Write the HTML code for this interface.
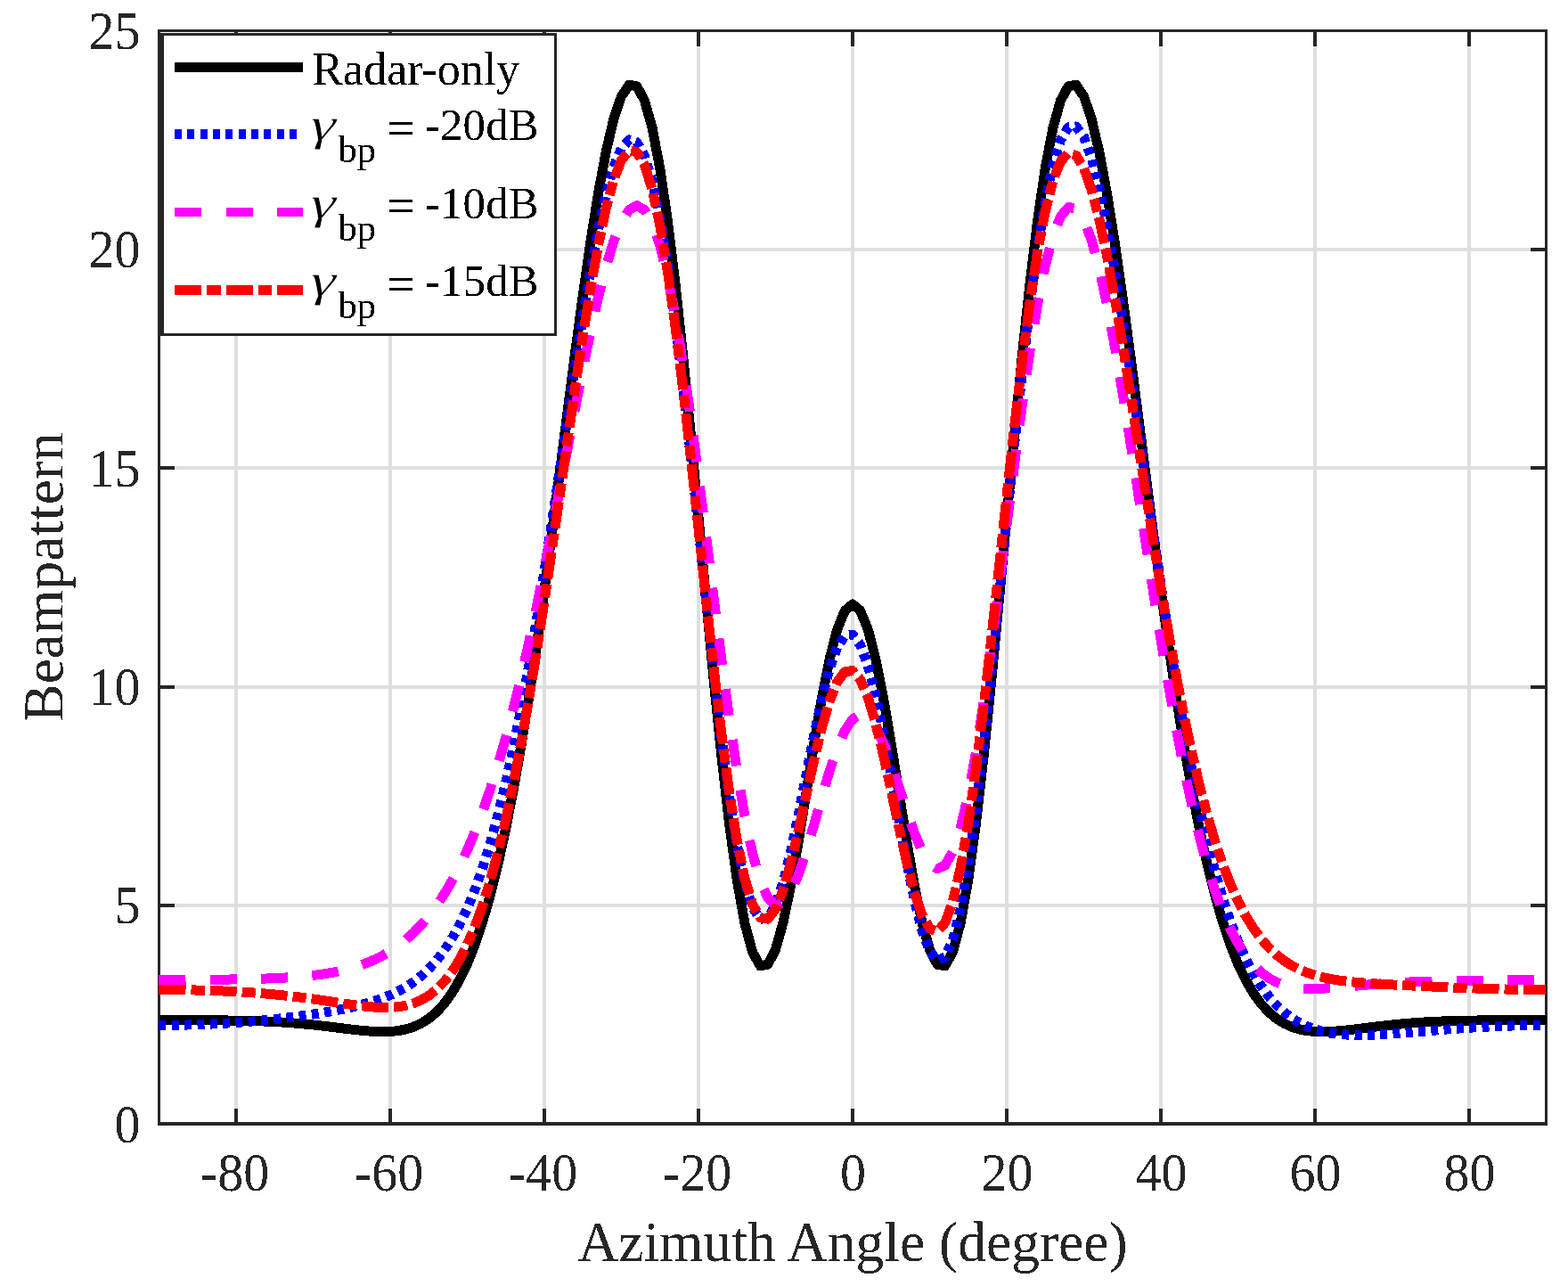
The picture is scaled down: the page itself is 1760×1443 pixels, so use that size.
<!DOCTYPE html>
<html lang="en"><head><meta charset="utf-8"><title>Beampattern</title>
<style>
html,body{margin:0;padding:0;background:#fff;}
body{width:1760px;height:1443px;overflow:hidden;}
svg{display:block;}
text{font-family:"Liberation Serif","DejaVu Serif",serif;}
.tl{font-size:58px;fill:#262626;letter-spacing:0px;}
.lab{font-size:63.5px;fill:#262626;}
.lg{font-size:51px;fill:#000;}
.sub{font-size:42.5px;fill:#000;}
.eq{stroke:#000;stroke-width:0.5px;}
.gm{stroke:#fff;stroke-width:0.5px;paint-order:fill stroke;}
</style></head>
<body>
<svg width="1760" height="1443" viewBox="0 0 1760 1443">
<defs><filter id="bin" x="0" y="0" width="1760" height="1443" filterUnits="userSpaceOnUse" color-interpolation-filters="sRGB"><feComponentTransfer><feFuncA type="discrete" tableValues="0 1"/></feComponentTransfer></filter></defs>
<rect x="0" y="0" width="1760" height="1443" fill="#fff"/>
<g fill="#dfdfdf" shape-rendering="crispEdges">
<rect x="263" y="36" width="4" height="1223"/>
<rect x="436" y="36" width="4" height="1223"/>
<rect x="609" y="36" width="4" height="1223"/>
<rect x="782" y="36" width="4" height="1223"/>
<rect x="955" y="36" width="4" height="1223"/>
<rect x="1128" y="36" width="4" height="1223"/>
<rect x="1301" y="36" width="4" height="1223"/>
<rect x="1474" y="36" width="4" height="1223"/>
<rect x="1647" y="36" width="4" height="1223"/>
<rect x="180" y="1014" width="1554" height="4"/>
<rect x="180" y="769" width="1554" height="4"/>
<rect x="180" y="523" width="1554" height="4"/>
<rect x="180" y="278" width="1554" height="4"/>
</g>
<g fill="#262626" shape-rendering="crispEdges">
<rect x="177" y="33" width="3" height="1230"/>
<rect x="1734" y="33" width="3" height="1230"/>
<rect x="177" y="33" width="1560" height="3"/>
<rect x="177" y="1259" width="1560" height="4"/>
<rect x="263" y="1244" width="4" height="16"/>
<rect x="263" y="36" width="4" height="16"/>
<rect x="436" y="1244" width="4" height="16"/>
<rect x="436" y="36" width="4" height="16"/>
<rect x="609" y="1244" width="4" height="16"/>
<rect x="609" y="36" width="4" height="16"/>
<rect x="782" y="1244" width="4" height="16"/>
<rect x="782" y="36" width="4" height="16"/>
<rect x="955" y="1244" width="4" height="16"/>
<rect x="955" y="36" width="4" height="16"/>
<rect x="1128" y="1244" width="4" height="16"/>
<rect x="1128" y="36" width="4" height="16"/>
<rect x="1301" y="1244" width="4" height="16"/>
<rect x="1301" y="36" width="4" height="16"/>
<rect x="1474" y="1244" width="4" height="16"/>
<rect x="1474" y="36" width="4" height="16"/>
<rect x="1647" y="1244" width="4" height="16"/>
<rect x="1647" y="36" width="4" height="16"/>
<rect x="180" y="1014" width="16" height="4"/>
<rect x="1718" y="1014" width="16" height="4"/>
<rect x="180" y="769" width="16" height="4"/>
<rect x="1718" y="769" width="16" height="4"/>
<rect x="180" y="523" width="16" height="4"/>
<rect x="1718" y="523" width="16" height="4"/>
<rect x="180" y="278" width="16" height="4"/>
<rect x="1718" y="278" width="16" height="4"/>
</g>
<g fill="none" stroke-width="11" stroke-linejoin="round" shape-rendering="crispEdges">
<path d="M178.50,1144.76 L187.15,1144.76 L195.80,1144.76 L204.45,1144.76 L213.10,1144.77 L221.75,1144.78 L230.40,1144.81 L239.05,1144.85 L247.70,1144.91 L256.35,1145.00 L265.00,1145.13 L273.65,1145.30 L282.30,1145.52 L290.95,1145.79 L299.60,1146.14 L308.25,1146.56 L316.90,1147.06 L325.55,1147.65 L334.20,1148.34 L342.85,1149.11 L351.50,1149.97 L360.15,1150.91 L368.80,1151.92 L377.45,1152.97 L386.10,1154.05 L394.75,1155.09 L403.40,1156.06 L412.05,1156.88 L420.70,1157.47 L429.35,1157.71 L438.00,1157.49 L446.65,1156.65 L455.30,1155.00 L463.95,1152.34 L472.60,1148.42 L481.25,1142.98 L489.90,1135.70 L498.55,1126.27 L507.20,1114.33 L515.85,1099.50 L524.50,1081.41 L533.15,1059.67 L541.80,1033.92 L550.45,1003.84 L559.10,969.15 L567.75,929.67 L576.40,885.28 L585.05,836.04 L593.70,782.13 L602.35,723.93 L611.00,661.99 L619.65,597.11 L628.30,530.29 L636.95,462.76 L645.60,395.96 L654.25,331.50 L662.90,271.16 L671.55,216.80 L680.20,170.29 L688.85,133.46 L697.50,108.01 L706.15,95.38 L714.80,96.70 L723.45,112.68 L732.10,143.53 L740.75,188.90 L749.40,247.85 L758.05,318.85 L766.70,399.78 L775.35,488.01 L784.00,580.47 L792.65,673.82 L801.30,764.53 L809.95,849.14 L818.60,924.38 L827.25,987.38 L835.90,1035.86 L844.55,1068.21 L853.20,1083.68 L861.85,1082.40 L870.50,1065.41 L879.15,1034.60 L887.80,992.64 L896.45,942.79 L905.10,888.76 L913.75,834.43 L922.40,783.64 L931.05,739.94 L939.70,706.38 L948.35,685.27 L957.00,678.07 L965.65,685.27 L974.30,706.38 L982.95,739.94 L991.60,783.64 L1000.25,834.43 L1008.90,888.76 L1017.55,942.79 L1026.20,992.64 L1034.85,1034.60 L1043.50,1065.41 L1052.15,1082.40 L1060.80,1083.68 L1069.45,1068.21 L1078.10,1035.86 L1086.75,987.38 L1095.40,924.38 L1104.05,849.14 L1112.70,764.53 L1121.35,673.82 L1130.00,580.47 L1138.65,488.01 L1147.30,399.78 L1155.95,318.85 L1164.60,247.85 L1173.25,188.90 L1181.90,143.53 L1190.55,112.68 L1199.20,96.70 L1207.85,95.38 L1216.50,108.01 L1225.15,133.46 L1233.80,170.29 L1242.45,216.80 L1251.10,271.16 L1259.75,331.50 L1268.40,395.96 L1277.05,462.76 L1285.70,530.29 L1294.35,597.11 L1303.00,661.99 L1311.65,723.93 L1320.30,782.13 L1328.95,836.04 L1337.60,885.28 L1346.25,929.67 L1354.90,969.15 L1363.55,1003.84 L1372.20,1033.92 L1380.85,1059.67 L1389.50,1081.41 L1398.15,1099.50 L1406.80,1114.33 L1415.45,1126.27 L1424.10,1135.70 L1432.75,1142.98 L1441.40,1148.42 L1450.05,1152.34 L1458.70,1155.00 L1467.35,1156.65 L1476.00,1157.49 L1484.65,1157.71 L1493.30,1157.47 L1501.95,1156.88 L1510.60,1156.06 L1519.25,1155.09 L1527.90,1154.05 L1536.55,1152.97 L1545.20,1151.92 L1553.85,1150.91 L1562.50,1149.97 L1571.15,1149.11 L1579.80,1148.34 L1588.45,1147.65 L1597.10,1147.06 L1605.75,1146.56 L1614.40,1146.14 L1623.05,1145.79 L1631.70,1145.52 L1640.35,1145.30 L1649.00,1145.13 L1657.65,1145.00 L1666.30,1144.91 L1674.95,1144.85 L1683.60,1144.81 L1692.25,1144.78 L1700.90,1144.77 L1709.55,1144.76 L1718.20,1144.76 L1726.85,1144.76 L1735.50,1144.76" stroke="#000"/>
<path d="M178.50,1150.40 L187.15,1150.38 L195.80,1150.29 L204.45,1150.14 L213.10,1149.93 L221.75,1149.67 L230.40,1149.34 L239.05,1148.95 L247.70,1148.50 L256.35,1147.99 L265.00,1147.42 L273.65,1146.78 L282.30,1146.08 L290.95,1145.32 L299.60,1144.49 L308.25,1143.59 L316.90,1142.63 L325.55,1141.60 L334.20,1140.50 L342.85,1139.32 L351.50,1138.06 L360.15,1136.71 L368.80,1135.26 L377.45,1133.70 L386.10,1131.99 L394.75,1130.12 L403.40,1128.04 L412.05,1125.72 L420.70,1123.08 L429.35,1120.06 L438.00,1116.56 L446.65,1112.48 L455.30,1107.68 L463.95,1102.00 L472.60,1095.27 L481.25,1087.28 L489.90,1077.79 L498.55,1066.54 L507.20,1053.25 L515.85,1037.62 L524.50,1019.34 L533.15,998.09 L541.80,973.59 L550.45,945.54 L559.10,913.72 L567.75,877.97 L576.40,838.19 L585.05,794.42 L593.70,746.81 L602.35,695.68 L611.00,641.51 L619.65,584.98 L628.30,526.95 L636.95,468.47 L645.60,410.81 L654.25,355.35 L662.90,303.63 L671.55,257.27 L680.20,217.90 L688.85,187.10 L697.50,166.32 L706.15,156.83 L714.80,159.57 L723.45,175.13 L732.10,203.67 L740.75,244.84 L749.40,297.79 L758.05,361.12 L766.70,432.96 L775.35,510.97 L784.00,592.44 L792.65,674.44 L801.30,753.90 L809.95,827.79 L818.60,893.32 L827.25,948.04 L835.90,990.00 L844.55,1017.92 L853.20,1031.25 L861.85,1030.20 L870.50,1015.80 L879.15,989.81 L887.80,954.63 L896.45,913.20 L905.10,868.76 L913.75,824.73 L922.40,784.40 L931.05,750.81 L939.70,726.48 L948.35,713.28 L957.00,712.31 L965.65,723.79 L974.30,747.08 L982.95,780.68 L991.60,822.39 L1000.25,869.37 L1008.90,918.38 L1017.55,965.98 L1026.20,1008.72 L1034.85,1043.38 L1043.50,1067.15 L1052.15,1077.81 L1060.80,1073.85 L1069.45,1054.52 L1078.10,1019.91 L1086.75,970.90 L1095.40,909.08 L1104.05,836.65 L1112.70,756.30 L1121.35,671.05 L1130.00,584.06 L1138.65,498.49 L1147.30,417.33 L1155.95,343.29 L1164.60,278.65 L1173.25,225.26 L1181.90,184.39 L1190.55,156.82 L1199.20,142.76 L1207.85,141.96 L1216.50,153.73 L1225.15,177.02 L1233.80,210.50 L1242.45,252.65 L1251.10,301.84 L1259.75,356.40 L1268.40,414.68 L1277.05,475.15 L1285.70,536.38 L1294.35,597.13 L1303.00,656.33 L1311.65,713.12 L1320.30,766.80 L1328.95,816.90 L1337.60,863.08 L1346.25,905.16 L1354.90,943.12 L1363.55,976.99 L1372.20,1006.94 L1380.85,1033.18 L1389.50,1055.94 L1398.15,1075.53 L1406.80,1092.23 L1415.45,1106.34 L1424.10,1118.15 L1432.75,1127.94 L1441.40,1135.98 L1450.05,1142.49 L1458.70,1147.70 L1467.35,1151.81 L1476.00,1154.97 L1484.65,1157.35 L1493.30,1159.07 L1501.95,1160.25 L1510.60,1160.99 L1519.25,1161.37 L1527.90,1161.45 L1536.55,1161.31 L1545.20,1160.98 L1553.85,1160.52 L1562.50,1159.96 L1571.15,1159.32 L1579.80,1158.64 L1588.45,1157.92 L1597.10,1157.20 L1605.75,1156.48 L1614.40,1155.78 L1623.05,1155.09 L1631.70,1154.44 L1640.35,1153.83 L1649.00,1153.25 L1657.65,1152.73 L1666.30,1152.25 L1674.95,1151.82 L1683.60,1151.45 L1692.25,1151.13 L1700.90,1150.87 L1709.55,1150.67 L1718.20,1150.52 L1726.85,1150.43 L1735.50,1150.40" stroke="#0000ff" stroke-dasharray="8 6.323" stroke-dashoffset="0"/>
<path d="M178.50,1099.60 L187.15,1099.59 L195.80,1099.57 L204.45,1099.54 L213.10,1099.49 L221.75,1099.44 L230.40,1099.36 L239.05,1099.27 L247.70,1099.17 L256.35,1099.04 L265.00,1098.90 L273.65,1098.73 L282.30,1098.52 L290.95,1098.28 L299.60,1097.99 L308.25,1097.64 L316.90,1097.22 L325.55,1096.71 L334.20,1096.09 L342.85,1095.34 L351.50,1094.43 L360.15,1093.34 L368.80,1092.02 L377.45,1090.43 L386.10,1088.53 L394.75,1086.26 L403.40,1083.58 L412.05,1080.41 L420.70,1076.69 L429.35,1072.34 L438.00,1067.28 L446.65,1061.41 L455.30,1054.65 L463.95,1046.88 L472.60,1037.99 L481.25,1027.86 L489.90,1016.36 L498.55,1003.35 L507.20,988.68 L515.85,972.21 L524.50,953.77 L533.15,933.23 L541.80,910.43 L550.45,885.25 L559.10,857.56 L567.75,827.29 L576.40,794.41 L585.05,758.93 L593.70,720.95 L602.35,680.65 L611.00,638.29 L619.65,594.29 L628.30,549.14 L636.95,503.49 L645.60,458.14 L654.25,413.97 L662.90,372.01 L671.55,333.38 L680.20,299.24 L688.85,270.78 L697.50,249.18 L706.15,235.51 L714.80,230.71 L723.45,235.53 L732.10,250.42 L740.75,275.56 L749.40,310.73 L758.05,355.33 L766.70,408.38 L775.35,468.49 L784.00,533.93 L792.65,602.67 L801.30,672.47 L809.95,740.96 L818.60,805.79 L827.25,864.72 L835.90,915.76 L844.55,957.28 L853.20,988.12 L861.85,1007.65 L870.50,1015.85 L879.15,1013.28 L887.80,1001.08 L896.45,980.92 L905.10,954.87 L913.75,925.27 L922.40,894.61 L931.05,865.36 L939.70,839.78 L948.35,819.81 L957.00,806.88 L965.65,801.88 L974.30,805.06 L982.95,816.00 L991.60,833.68 L1000.25,856.49 L1008.90,882.43 L1017.55,909.13 L1026.20,934.10 L1034.85,954.87 L1043.50,969.15 L1052.15,974.96 L1060.80,970.79 L1069.45,955.70 L1078.10,929.35 L1086.75,892.00 L1095.40,844.57 L1104.05,788.50 L1112.70,725.68 L1121.35,658.38 L1130.00,589.06 L1138.65,520.29 L1147.30,454.58 L1155.95,394.28 L1164.60,341.44 L1173.25,297.78 L1181.90,264.59 L1190.55,242.70 L1199.20,232.49 L1207.85,233.89 L1216.50,246.43 L1225.15,269.28 L1233.80,301.34 L1242.45,341.27 L1251.10,387.62 L1259.75,438.84 L1268.40,493.40 L1277.05,549.83 L1285.70,606.75 L1294.35,662.94 L1303.00,717.35 L1311.65,769.11 L1320.30,817.55 L1328.95,862.16 L1337.60,902.64 L1346.25,938.83 L1354.90,970.72 L1363.55,998.41 L1372.20,1022.09 L1380.85,1042.04 L1389.50,1058.55 L1398.15,1071.99 L1406.80,1082.72 L1415.45,1091.08 L1424.10,1097.42 L1432.75,1102.08 L1441.40,1105.35 L1450.05,1107.49 L1458.70,1108.76 L1467.35,1109.34 L1476.00,1109.42 L1484.65,1109.14 L1493.30,1108.62 L1501.95,1107.94 L1510.60,1107.18 L1519.25,1106.39 L1527.90,1105.62 L1536.55,1104.88 L1545.20,1104.20 L1553.85,1103.58 L1562.50,1103.03 L1571.15,1102.54 L1579.80,1102.11 L1588.45,1101.74 L1597.10,1101.42 L1605.75,1101.15 L1614.40,1100.91 L1623.05,1100.70 L1631.70,1100.52 L1640.35,1100.36 L1649.00,1100.22 L1657.65,1100.10 L1666.30,1100.00 L1674.95,1099.90 L1683.60,1099.82 L1692.25,1099.75 L1700.90,1099.70 L1709.55,1099.65 L1718.20,1099.62 L1726.85,1099.60 L1735.50,1099.60" stroke="#ff00ff" stroke-dasharray="30 27.31" stroke-dashoffset="0"/>
<path d="M178.50,1110.55 L187.15,1110.57 L195.80,1110.63 L204.45,1110.73 L213.10,1110.87 L221.75,1111.06 L230.40,1111.29 L239.05,1111.57 L247.70,1111.90 L256.35,1112.28 L265.00,1112.72 L273.65,1113.22 L282.30,1113.79 L290.95,1114.43 L299.60,1115.13 L308.25,1115.92 L316.90,1116.78 L325.55,1117.72 L334.20,1118.74 L342.85,1119.84 L351.50,1121.01 L360.15,1122.23 L368.80,1123.50 L377.45,1124.80 L386.10,1126.08 L394.75,1127.32 L403.40,1128.46 L412.05,1129.43 L420.70,1130.16 L429.35,1130.54 L438.00,1130.46 L446.65,1129.77 L455.30,1128.30 L463.95,1125.87 L472.60,1122.24 L481.25,1117.17 L489.90,1110.38 L498.55,1101.58 L507.20,1090.42 L515.85,1076.59 L524.50,1059.73 L533.15,1039.51 L541.80,1015.61 L550.45,987.74 L559.10,955.68 L567.75,919.27 L576.40,878.45 L585.05,833.27 L593.70,783.96 L602.35,730.86 L611.00,674.53 L619.65,615.71 L628.30,555.32 L636.95,494.50 L645.60,434.54 L654.25,376.91 L662.90,323.18 L671.55,274.99 L680.20,233.97 L688.85,201.71 L697.50,179.64 L706.15,168.99 L714.80,170.65 L723.45,185.18 L732.10,212.65 L740.75,252.70 L749.40,304.41 L758.05,366.39 L766.70,436.75 L775.35,513.18 L784.00,593.03 L792.65,673.43 L801.30,751.42 L809.95,824.11 L818.60,888.81 L827.25,943.21 L835.90,985.48 L844.55,1014.43 L853.20,1029.57 L861.85,1031.14 L870.50,1020.13 L879.15,998.21 L887.80,967.65 L896.45,931.18 L905.10,891.82 L913.75,852.70 L922.40,816.84 L931.05,786.96 L939.70,765.34 L948.35,753.60 L957.00,752.64 L965.65,762.58 L974.30,782.74 L982.95,811.68 L991.60,847.31 L1000.25,887.01 L1008.90,927.83 L1017.55,966.66 L1026.20,1000.44 L1034.85,1026.32 L1043.50,1041.89 L1052.15,1045.30 L1060.80,1035.34 L1069.45,1011.53 L1078.10,974.14 L1086.75,924.14 L1095.40,863.13 L1104.05,793.26 L1112.70,717.06 L1121.35,637.33 L1130.00,556.97 L1138.65,478.82 L1147.30,405.58 L1155.95,339.60 L1164.60,282.86 L1173.25,236.91 L1181.90,202.77 L1190.55,181.00 L1199.20,171.66 L1207.85,174.39 L1216.50,188.43 L1225.15,212.74 L1233.80,246.02 L1242.45,286.82 L1251.10,333.61 L1259.75,384.86 L1268.40,439.06 L1277.05,494.82 L1285.70,550.87 L1294.35,606.10 L1303.00,659.59 L1311.65,710.59 L1320.30,758.52 L1328.95,802.99 L1337.60,843.75 L1346.25,880.69 L1354.90,913.80 L1363.55,943.18 L1372.20,968.99 L1380.85,991.46 L1389.50,1010.85 L1398.15,1027.42 L1406.80,1041.48 L1415.45,1053.30 L1424.10,1063.16 L1432.75,1071.32 L1441.40,1078.03 L1450.05,1083.50 L1458.70,1087.93 L1467.35,1091.50 L1476.00,1094.36 L1484.65,1096.64 L1493.30,1098.46 L1501.95,1099.91 L1510.60,1101.07 L1519.25,1102.01 L1527.90,1102.78 L1536.55,1103.43 L1545.20,1103.99 L1553.85,1104.49 L1562.50,1104.94 L1571.15,1105.36 L1579.80,1105.77 L1588.45,1106.17 L1597.10,1106.56 L1605.75,1106.94 L1614.40,1107.32 L1623.05,1107.69 L1631.70,1108.05 L1640.35,1108.40 L1649.00,1108.74 L1657.65,1109.06 L1666.30,1109.35 L1674.95,1109.62 L1683.60,1109.85 L1692.25,1110.06 L1700.90,1110.23 L1709.55,1110.37 L1718.20,1110.47 L1726.85,1110.53 L1735.50,1110.55" stroke="#ff0000" stroke-dasharray="30 6 15.17 6" stroke-dashoffset="0"/>
</g>
<g filter="url(#bin)">
<text transform="translate(263.50,1335.9) scale(1,1.055)" class="tl" text-anchor="middle">-80</text>
<text transform="translate(436.50,1335.9) scale(1,1.055)" class="tl" text-anchor="middle">-60</text>
<text transform="translate(609.50,1335.9) scale(1,1.055)" class="tl" text-anchor="middle">-40</text>
<text transform="translate(782.50,1335.9) scale(1,1.055)" class="tl" text-anchor="middle">-20</text>
<text transform="translate(957.50,1335.9) scale(1,1.055)" class="tl" text-anchor="middle">0</text>
<text transform="translate(1130.50,1335.9) scale(1,1.055)" class="tl" text-anchor="middle">20</text>
<text transform="translate(1303.50,1335.9) scale(1,1.055)" class="tl" text-anchor="middle">40</text>
<text transform="translate(1476.50,1335.9) scale(1,1.055)" class="tl" text-anchor="middle">60</text>
<text transform="translate(1649.50,1335.9) scale(1,1.055)" class="tl" text-anchor="middle">80</text>
<text transform="translate(157.6,1281.60) scale(1,1.055)" class="tl" text-anchor="end">0</text>
<text transform="translate(157.6,1036.30) scale(1,1.055)" class="tl" text-anchor="end">5</text>
<text transform="translate(157.6,791.00) scale(1,1.055)" class="tl" text-anchor="end">10</text>
<text transform="translate(157.6,545.70) scale(1,1.055)" class="tl" text-anchor="end">15</text>
<text transform="translate(157.6,300.40) scale(1,1.055)" class="tl" text-anchor="end">20</text>
<text transform="translate(157.6,55.10) scale(1,1.055)" class="tl" text-anchor="end">25</text>
<text x="957" y="1414.5" class="lab" text-anchor="middle">Azimuth Angle (degree)</text>
<text transform="translate(70.5,647.5) rotate(-90)" class="lab" text-anchor="middle">Beampattern</text>
</g>
<g shape-rendering="crispEdges"><rect x="180" y="37" width="445" height="340" fill="#262626"/><rect x="184" y="40" width="438" height="334" fill="#fff"/></g>
<g fill="none" stroke-width="11" shape-rendering="crispEdges">
<path d="M196,75.5 H340" stroke="#000"/>
<path d="M196,150.5 H339" stroke="#0000ff" stroke-dasharray="8 6.35"/>
<path d="M196,238 H340" stroke="#ff00ff" stroke-width="10" stroke-dasharray="30 27.5"/>
<path d="M196,325.5 H340" stroke="#ff0000" stroke-dasharray="30 6 15.5 6"/>
</g>
<g filter="url(#bin)">
<text x="350.4" y="95.2" class="lg" style="font-size:52px">Radar-only</text>
<text transform="translate(344.6,157.4) scale(1.3,1) skewX(-12)" class="lg gm">γ</text>
<text x="379.5" y="182.4" class="sub">bp</text>
<text transform="translate(435.0,161.8) scale(1.05,1.07)" class="lg eq">=</text>
<text x="476.9" y="157.4" class="lg" style="letter-spacing:0.1px">-20dB</text>
<text transform="translate(344.6,244.9) scale(1.3,1) skewX(-12)" class="lg gm">γ</text>
<text x="379.5" y="269.9" class="sub">bp</text>
<text transform="translate(435.0,249.3) scale(1.05,1.07)" class="lg eq">=</text>
<text x="476.9" y="244.9" class="lg" style="letter-spacing:0.1px">-10dB</text>
<text transform="translate(344.6,332.4) scale(1.3,1) skewX(-12)" class="lg gm">γ</text>
<text x="379.5" y="357.4" class="sub">bp</text>
<text transform="translate(435.0,336.79999999999995) scale(1.05,1.07)" class="lg eq">=</text>
<text x="476.9" y="332.4" class="lg" style="letter-spacing:0.1px">-15dB</text>
</g>
</svg>
</body></html>
